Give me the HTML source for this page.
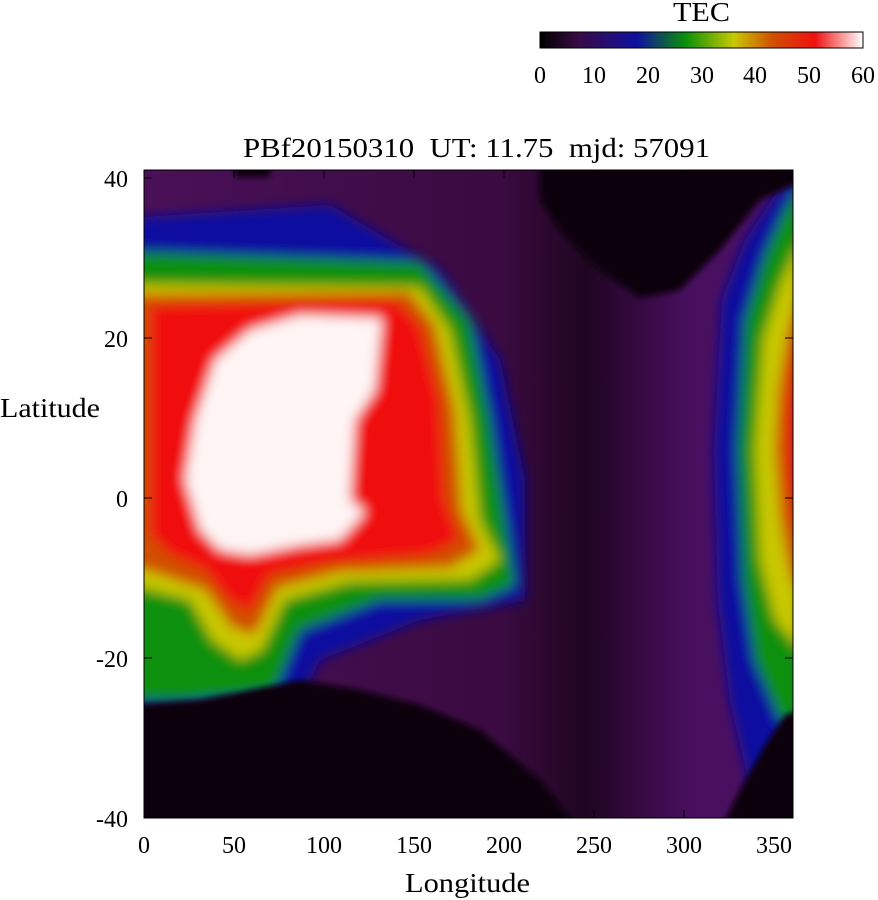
<!DOCTYPE html>
<html><head><meta charset="utf-8"><style>
body{margin:0;background:#fff;width:878px;height:900px;overflow:hidden}
svg{display:block}
text{font-family:"Liberation Serif",serif;font-size:24px;fill:#000;white-space:pre}
.lb{font-size:27px}
</style></head><body>
<svg width="878" height="900" viewBox="0 0 878 900" xmlns="http://www.w3.org/2000/svg">
<defs>
<linearGradient id="cb" x1="0" x2="1" y1="0" y2="0">
<stop offset="0" stop-color="#000"/>
<stop offset="0.12" stop-color="#3a0a45"/>
<stop offset="0.3" stop-color="#1010a0"/>
<stop offset="0.45" stop-color="#0a900a"/>
<stop offset="0.6" stop-color="#c8c800"/>
<stop offset="0.72" stop-color="#d05000"/>
<stop offset="0.85" stop-color="#f01010"/>
<stop offset="1" stop-color="#ffffff"/>
</linearGradient>
<linearGradient id="bg" x1="0" x2="1" y1="0" y2="0">
<stop offset="0" stop-color="#4a1058"/>
<stop offset="0.55" stop-color="#3a0a40"/>
<stop offset="0.68" stop-color="#1e0620"/>
<stop offset="0.78" stop-color="#3a0a48"/>
<stop offset="0.85" stop-color="#4a1060"/>
<stop offset="1" stop-color="#4a1060"/>
</linearGradient>
<filter id="bl" x="-20%" y="-20%" width="140%" height="140%"><feGaussianBlur stdDeviation="6"/></filter>
<filter id="bs" x="-20%" y="-20%" width="140%" height="140%"><feGaussianBlur stdDeviation="3"/></filter>
<clipPath id="pc"><rect x="144" y="170" width="649" height="648"/></clipPath>
</defs>

<rect x="540" y="32" width="323" height="16" fill="url(#cb)" stroke="#000" stroke-width="1"/>
<text class="lb" x="673" y="21" textLength="57" lengthAdjust="spacingAndGlyphs">TEC</text>
<g text-anchor="middle" class="lb">
<text x="540" y="83">0</text><text x="594" y="83">10</text><text x="648" y="83">20</text>
<text x="702" y="83">30</text><text x="755" y="83">40</text><text x="809" y="83">50</text><text x="863" y="83">60</text>
</g>

<text class="lb" x="243" y="157" textLength="467" lengthAdjust="spacingAndGlyphs">PBf20150310  UT: 11.75  mjd: 57091</text>

<g clip-path="url(#pc)">
<rect x="144" y="170" width="649" height="648" fill="url(#bg)"/>
<g filter="url(#bl)">
<polygon fill="#1010a0" points="130,218 330,205 440,270 500,360 525,480 525,600 420,620 320,660 300,700 130,710"/>
<polygon fill="#0a900a" points="130,252 420,262 470,320 490,420 505,520 515,585 480,600 380,600 300,630 275,690 240,695 180,700 130,700"/>
<polygon fill="#c8c800" points="130,284 420,287 450,330 470,420 480,520 500,560 470,580 350,582 285,600 262,650 240,660 212,640 190,600 130,585"/>
<polygon fill="#d05000" points="130,294 410,292 435,325 455,410 462,510 480,550 450,568 340,572 278,588 255,635 232,628 205,590 130,565"/>
<polygon fill="#f01010" points="150,305 395,300 420,325 440,400 445,500 460,540 430,555 330,563 270,575 250,612 228,600 205,570 170,555 150,535"/>
<polygon fill="#fff5f5" points="300,315 382,318 375,390 355,420 350,500 365,512 340,540 300,545 250,555 220,550 200,530 185,480 195,420 215,360 250,330"/>
<polygon fill="#1010a0" points="800,170 775,195 745,240 722,300 714,450 718,600 730,700 760,830 800,830"/>
<polygon fill="#0a900a" points="800,185 785,210 765,255 745,320 738,450 743,580 755,660 780,720 800,720"/>
<polygon fill="#c8c800" points="800,240 780,285 763,340 755,450 760,560 775,620 800,650"/>
<polygon fill="#d05000" points="800,290 788,330 778,390 775,450 780,520 790,575 800,595"/>
<polygon fill="#e81010" points="800,325 792,365 787,420 788,480 794,520 800,530"/>
</g>
<g filter="url(#bs)">
<polygon fill="#080008" points="540,160 800,160 800,182 760,200 720,250 680,290 640,298 600,270 560,230 540,200"/>
<polygon fill="#080008" points="130,705 200,700 250,690 300,680 360,690 420,705 480,730 540,780 580,830 130,830"/>
<polygon fill="#080008" points="720,830 740,790 765,745 785,715 800,710 800,830"/>
<rect x="235" y="165" width="35" height="12" fill="#080008"/>
</g>
</g>
<rect x="144" y="170" width="649" height="648" fill="none" stroke="#000" stroke-width="1"/>
<g stroke="#000" stroke-width="1">
<path d="M144,178h8M144,338h8M144,498h8M144,658h8M793,178h-8M793,338h-8M793,498h-8M793,658h-8"/>
<path d="M234,818v-8M324,818v-8M414,818v-8M504,818v-8M594,818v-8M684,818v-8M774,818v-8M234,170v8M324,170v8M414,170v8M504,170v8M594,170v8M684,170v8M774,170v8"/>
</g>
<g text-anchor="end" class="lb">
<text x="128" y="187">40</text><text x="128" y="347">20</text><text x="128" y="507">0</text>
<text x="128" y="667">-20</text><text x="128" y="827">-40</text>
</g>
<g text-anchor="middle" class="lb">
<text x="144" y="853">0</text><text x="234" y="853">50</text><text x="324" y="853">100</text>
<text x="414" y="853">150</text><text x="504" y="853">200</text><text x="594" y="853">250</text>
<text x="684" y="853">300</text><text x="774" y="853">350</text>
</g>
<text class="lb" x="405" y="892" textLength="125" lengthAdjust="spacingAndGlyphs">Longitude</text>
<text class="lb" x="0" y="417" textLength="100" lengthAdjust="spacingAndGlyphs">Latitude</text>
</svg>
</body></html>
